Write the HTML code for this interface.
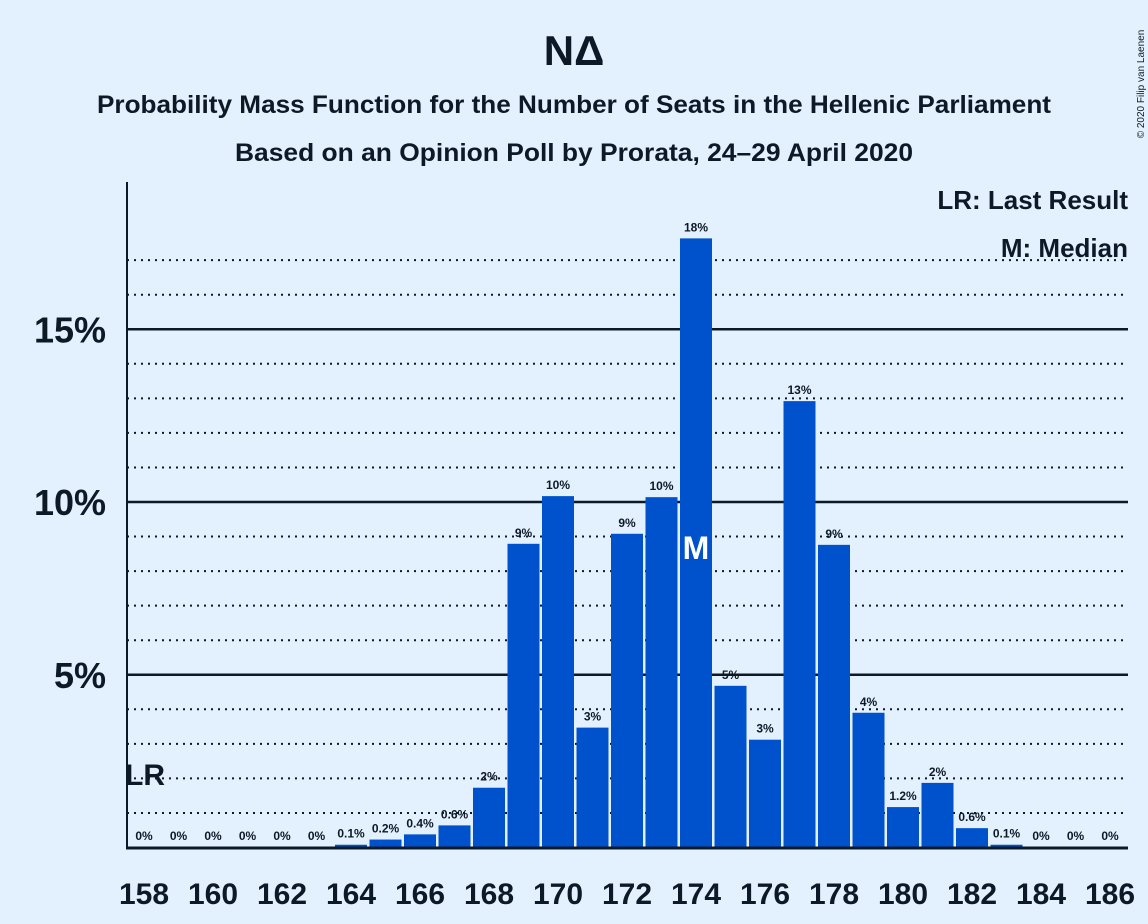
<!DOCTYPE html>
<html><head><meta charset="utf-8"><style>
html,body{margin:0;padding:0;background:#e3f0fd;}
svg{display:block;font-family:"Liberation Sans",sans-serif;}
</style></head><body>
<svg id="chart" width="1148" height="924" viewBox="0 0 1148 924">
<rect width="1148" height="924" fill="#e3f0fd"/>
<text x="574" y="65" text-anchor="middle" font-size="42" font-weight="bold" fill="#0d1a26">NΔ</text>
<text x="574" y="113" text-anchor="middle" font-size="25" font-weight="bold" fill="#0d1a26" textLength="954" lengthAdjust="spacingAndGlyphs">Probability Mass Function for the Number of Seats in the Hellenic Parliament</text>
<text x="574" y="161" text-anchor="middle" font-size="25" font-weight="bold" fill="#0d1a26" textLength="678" lengthAdjust="spacingAndGlyphs">Based on an Opinion Poll by Prorata, 24–29 April 2020</text>
<text x="1144" y="84" transform="rotate(-90 1144 84)" text-anchor="middle" font-size="10" fill="#0d1a26">© 2020 Filip van Laenen</text>
<g id="grid"></g>
<g id="bars"></g>
<g id="labels"></g>
<text x="1128" y="209" text-anchor="end" font-size="26" font-weight="bold" fill="#0d1a26">LR: Last Result</text>
<text x="1128" y="257" text-anchor="end" font-size="26" font-weight="bold" fill="#0d1a26">M: Median</text>
<line x1="127" y1="182" x2="127" y2="849" stroke="#0d1a26" stroke-width="2"/>
<line x1="126" y1="848" x2="1128" y2="848" stroke="#0d1a26" stroke-width="3"/>
</svg>
<script>
const seats=[158,159,160,161,162,163,164,165,166,167,168,169,170,171,172,173,174,175,176,177,178,179,180,181,182,183,184,185,186];
const probs=[0,0,0,0,0,0,0.08,0.23,0.38,0.64,1.73,8.79,10.17,3.47,9.08,10.14,17.63,4.68,3.12,12.92,8.76,3.9,1.17,1.87,0.56,0.08,0,0,0];
const valueLabels=["0%","0%","0%","0%","0%","0%","0.1%","0.2%","0.4%","0.6%","2%","9%","10%","3%","9%","10%","18%","5%","3%","13%","9%","4%","1.2%","2%","0.6%","0.1%","0%","0%","0%"];
const yTicks=[5,10,15];
const xTickSeats=[158,160,162,164,166,168,170,172,174,176,178,180,182,184,186];
const medianSeat=174, lastResultSeat=158;
const NS="http://www.w3.org/2000/svg";
const y=v=>847.5-v*34.55;
const x=s=>144+(s-158)*34.5;
function mk(tag,attrs,parent,txt){const e=document.createElementNS(NS,tag);for(const k in attrs)e.setAttribute(k,attrs[k]);if(txt!==undefined)e.textContent=txt;parent.appendChild(e);return e;}
const grid=document.getElementById('grid'),bars=document.getElementById('bars'),labels=document.getElementById('labels');
for(let p=1;p<=17;p++){
  const major=p%5===0;
  const l=mk('line',{x1:127,x2:1128,y1:y(p),y2:y(p),stroke:'#0d1a26','stroke-width':major?2.5:2,'stroke-dasharray':major?'':'2,5'},grid);
  
  
}
yTicks.forEach(t=>{
  const e=mk('text',{x:106,y:y(t)+13,'text-anchor':'end','font-size':36,'font-weight':'bold',fill:'#0d1a26'},labels,t+'%');
  
  
});
xTickSeats.forEach(s=>{
  const e=mk('text',{x:x(s),y:904,'text-anchor':'middle','font-size':30,'font-weight':'bold',fill:'#0d1a26'},labels,String(s));
  
  
});
seats.forEach((s,i)=>{
  const v=probs[i];
  if(v>0){
    const r=mk('rect',{x:x(s)-16,y:y(v),width:32,height:847.5-y(v),fill:'#0052cc'},bars);
    
    
  }
  const ly=v>0?y(v)-7:840;
  const t=mk('text',{x:x(s),y:ly,'text-anchor':'middle','font-size':12,'font-weight':'bold',fill:'#0d1a26'},labels,valueLabels[i]);
  
  
});
const mi=seats.indexOf(medianSeat);
const m=mk('text',{x:x(medianSeat),y:559,'text-anchor':'middle','font-size':32,'font-weight':'bold',fill:'#ffffff'},labels,'M');


const lr=mk('text',{x:x(lastResultSeat)+1,y:785,'text-anchor':'middle','font-size':30,'font-weight':'bold',fill:'#0d1a26'},labels,'LR');


</script>
</body></html>
